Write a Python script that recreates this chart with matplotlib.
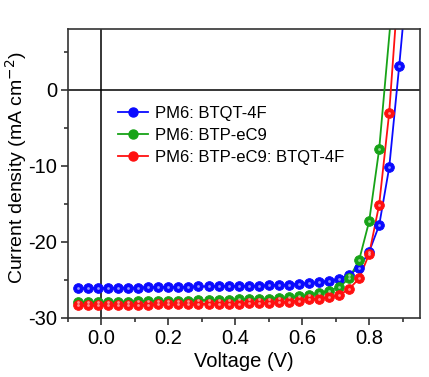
import matplotlib

matplotlib.use("Agg")
import matplotlib.pyplot as plt
from matplotlib.ticker import MultipleLocator, FormatStrFormatter

plt.rcParams["font.family"] = ["Liberation Sans", "DejaVu Sans"]
plt.rcParams["axes.unicode_minus"] = False

# J-V data (V in volts, J in mA cm^-2)
volts = [-0.07, -0.04, -0.01, 0.02, 0.05, 0.08, 0.11, 0.14, 0.17, 0.20, 0.23,
         0.26, 0.29, 0.32, 0.35, 0.38, 0.41, 0.44, 0.47, 0.50, 0.53, 0.56,
         0.59, 0.62, 0.65, 0.68, 0.71, 0.74, 0.77, 0.80, 0.83, 0.86, 0.89]

j_btqt = [-26.10, -26.10, -26.05, -26.05, -26.00, -26.00, -26.00, -25.95,
          -25.95, -25.90, -25.90, -25.90, -25.85, -25.85, -25.80, -25.80,
          -25.80, -25.75, -25.75, -25.70, -25.65, -25.60, -25.50, -25.40,
          -25.30, -25.10, -24.90, -24.30, -23.40, -21.30, -17.80, -10.20, 3.20]
j_ec9 = [-27.95, -27.95, -27.90, -27.90, -27.85, -27.85, -27.80, -27.80,
         -27.75, -27.75, -27.70, -27.70, -27.65, -27.65, -27.60, -27.60,
         -27.55, -27.55, -27.50, -27.45, -27.40, -27.30, -27.15, -27.00,
         -26.75, -26.40, -25.95, -24.80, -22.40, -17.30, -7.80]
j_ternary = [-28.35, -28.35, -28.30, -28.30, -28.30, -28.25, -28.25, -28.25,
             -28.20, -28.20, -28.20, -28.15, -28.15, -28.15, -28.10, -28.10,
             -28.10, -28.05, -28.05, -28.00, -27.95, -27.85, -27.70, -27.50,
             -27.45, -27.30, -27.00, -26.20, -24.80, -21.60, -15.10, -3.00]

# where each curve leaves the top of the frame
top_v = {"btqt": 0.900, "ec9": 0.862, "ternary": 0.878}
top_j = 8.0

series = [
    ("PM6: BTQT-4F", j_btqt, top_v["btqt"], "#0a0aff"),
    ("PM6: BTP-eC9", j_ec9, top_v["ec9"], "#17a317"),
    ("PM6: BTP-eC9: BTQT-4F", j_ternary, top_v["ternary"], "#ff1010"),
]

fig = plt.figure(figsize=(4.29, 3.77), dpi=100)
ax = fig.add_axes([0.1585, 0.1565, 0.8205, 0.7665])

ax.axhline(0.0, color="k", lw=1.1, zorder=1)
ax.axvline(0.0, color="k", lw=1.1, zorder=1)

ms = 7.0
for label, j, vtop, color in series:
    v = volts[:len(j)]
    ax.plot(v + [vtop], j + [top_j], "-", color=color, lw=1.3, zorder=2)
    ax.plot(v, j, "o", color=color, ms=ms, mec=color, mew=0.6, zorder=3)
    ax.plot(v, j, "o", color="white", ms=2.0, mew=0, alpha=0.55, zorder=4)
    # legend proxy
    ax.plot([], [], "-o", color=color, lw=1.3, ms=ms - 0.5, label=label)

ax.set_xlim(-0.1, 0.952)
ax.set_ylim(-30, 8)
ax.xaxis.set_major_locator(MultipleLocator(0.2))
ax.xaxis.set_minor_locator(MultipleLocator(0.1))
ax.yaxis.set_major_locator(MultipleLocator(10))
ax.yaxis.set_minor_locator(MultipleLocator(5))
ax.xaxis.set_major_formatter(FormatStrFormatter("%.1f"))
ax.tick_params(which="both", direction="out", top=False, right=False,
               labelsize=14.5, width=1.1, color="#222222")
ax.tick_params(which="major", length=5, pad=3)
ax.tick_params(which="minor", length=3)
for sp in ax.spines.values():
    sp.set_linewidth(1.2)
    sp.set_color("#333333")

ax.set_xlabel("Voltage (V)", fontsize=14.5, labelpad=3)
ax.set_ylabel("Current density (mA cm$^{-2}$)", fontsize=14)
ax.yaxis.set_label_coords(-0.112, 0.52)

ax.legend(loc="upper left", bbox_to_anchor=(0.11, 0.775), frameon=False,
          fontsize=12, handlelength=1.8, handletextpad=0.4,
          labelspacing=0.42, borderpad=0.2)

fig.savefig("out.png", dpi=100)
